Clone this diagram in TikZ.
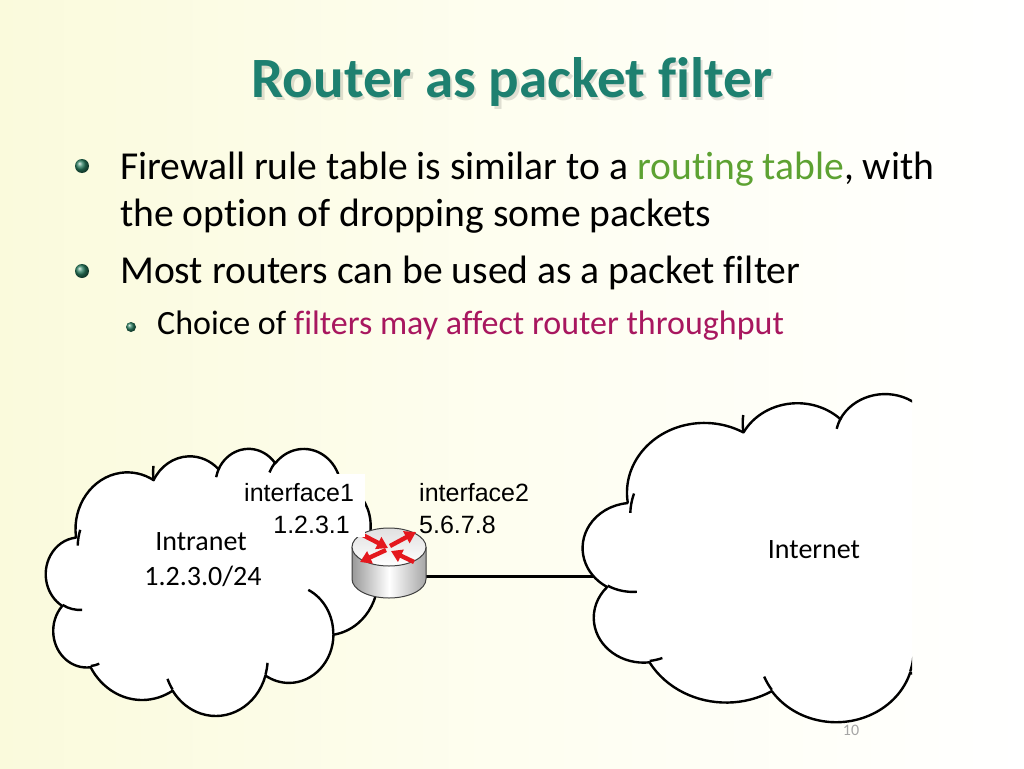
\documentclass[tikz,border=0pt]{standalone}
\usepackage{fontspec}
\setmainfont{Carlito}[Ligatures=NoCommon]
\newfontfamily\arialf{Liberation Sans}
\usetikzlibrary{arrows.meta}
\definecolor{titleteal}{RGB}{30,128,112}
\definecolor{rtgreen}{RGB}{93,162,50}
\definecolor{fmag}{RGB}{168,23,95}
\definecolor{ballteal}{RGB}{40,125,95}
\definecolor{arrred}{RGB}{228,24,30}
\definecolor{bgyellow}{RGB}{250,250,220}
\tikzset{
  ooarc/.style n args={4}{x radius=#1, y radius=#2,
    start angle={atan2((#1)*sin(#3),(#2)*cos(#3))},
    delta angle={mod(atan2((#1)*sin((#3)+(#4)),(#2)*cos((#3)+(#4)))-atan2((#1)*sin(#3),(#2)*cos(#3))+720,360)}},
  cloudline/.style={draw=black, line width=2.4pt, line join=round},
  bul/.style={anchor=base west, inner sep=0pt, font=\fontsize{39.6}{47}\selectfont},
  subbul/.style={anchor=base west, inner sep=0pt, font=\fontsize{34}{40}\selectfont},
  netlabel/.style={inner sep=0pt, font=\fontsize{28}{33}\selectfont},
  iflabel/.style={inner sep=0pt, font=\arialf\fontsize{25}{30}\selectfont},
  wire/.style={draw=black, line width=3pt},
  rarrow/.style={draw=arrred, line width=4.4pt, -{Triangle[length=11pt,width=13pt]}},
  ballbul/.style={ball color=ballteal}
}
\newcommand\ooOutline{(3.900,14.370)
 arc[ooarc={6.753}{9.190}{-190.4875}{123.7805}]
 arc[ooarc={5.333}{7.267}{-144.1024}{89.9452}]
 arc[ooarc={4.365}{5.945}{-145.8079}{99.7230}]
 arc[ooarc={4.857}{6.595}{-130.9861}{117.2417}]
 arc[ooarc={5.333}{7.273}{-78.7089}{109.0269}]
 arc[ooarc={6.775}{9.220}{-46.2673}{130.2690}]
 arc[ooarc={5.785}{7.867}{0.6250}{114.0333}]
 arc[ooarc={6.752}{9.215}{22.4516}{115.1726}]
 arc[ooarc={7.720}{10.543}{66.2426}{75.7110}]
 arc[ooarc={4.360}{5.918}{-274.9421}{146.7356}]
 arc[ooarc={4.345}{5.945}{-246.8285}{152.5189}] -- cycle}
\newcommand\ooInner{(4.693,26.177) arc[ooarc={4.345}{5.945}{86.7420}{26.4295}]
 (6.928,34.899) arc[ooarc={4.360}{5.918}{73.6105}{11.4475}]
 (16.478,39.090) arc[ooarc={6.752}{9.215}{137.6242}{14.0811}]
 (28.827,34.751) arc[ooarc={6.752}{9.215}{6.4533}{15.9984}]
 (34.129,22.954) arc[ooarc={5.785}{7.867}{-70.2924}{70.9174}]
 (41.798,15.354) arc[ooarc={5.333}{7.273}{30.3180}{27.7515}]
 (38.324,5.426) arc[ooarc={4.857}{6.595}{-13.7443}{14.8589}]
 (29.078,3.952) arc[ooarc={4.857}{6.595}{-149.1815}{18.1954}]
 (22.141,4.720) arc[ooarc={4.365}{5.945}{-163.4943}{19.0050}]
 (14.000,5.192) arc[ooarc={6.753}{9.190}{-190.4875}{19.4328}]
 (4.127,15.789) arc[ooarc={6.753}{9.190}{182.3443}{21.4214}]}
\begin{document}
\begin{tikzpicture}[x=1pt,y=-1pt]
\useasboundingbox (0,0) rectangle (1024,768);
\shade[left color=bgyellow, right color=white, middle color={rgb,255:red,254;green,254;blue,240}] (0,0) rectangle (1024,768);

% title
\node[anchor=base, inner sep=0pt, text=black, opacity=0.12, font=\bfseries\fontsize{57}{66}\selectfont] (titleshadow) at (514.5,100) {Router as packet filter};
\node[anchor=base, inner sep=0pt, text=titleteal, font=\bfseries\fontsize{57}{66}\selectfont] (title) at (512,97) {Router as packet filter};

% bullets
\shade[ballbul] (82,166) circle[radius=7];
\shade[ballbul] (82,271) circle[radius=7];
\shade[ballbul] (131,327) circle[radius=5];
\node[bul] (b1) at (120,179) {Firewall rule table is similar to a \textcolor{rtgreen}{routing table}, with};
\node[bul] (b1b) at (120,226) {the option of dropping some packets};
\node[bul] (b2) at (120,283) {Most routers can be used as a packet filter};
\node[subbul] (b3) at (157,334) {Choice of \textcolor{fmag}{filters may affect router throughput}};

% intranet cloud
\begin{scope}[shift={(46,448)}, x=7.685pt, y=-6.181pt]
  \path[fill=white] \ooOutline;
  \draw[cloudline] \ooOutline;
  \draw[cloudline] \ooInner;
\end{scope}

% router node and wire
\node[inner sep=0pt, minimum width=74pt, minimum height=70pt] (router) at (389,563) {};
\coordinate (inetL) at (605,576);
\draw[wire] (inetL -| router.east) -- (inetL);

% internet cloud (clipped at the right)
\begin{scope}
  \clip (0,0) rectangle (912,768);
  \begin{scope}[shift={(583,393)}, x=11.458pt, y=-7.593pt]
    \path[fill=white] \ooOutline;
    \draw[cloudline] \ooOutline;
    \draw[cloudline] \ooInner;
  \end{scope}
\end{scope}

% router drawing
\shade[left color=black!40, right color=black!35, middle color=white]
  (352,547) -- (352,579) arc[start angle=180, end angle=0, x radius=37, y radius=19] -- (426,547) -- cycle;
\draw[black!75, line width=1pt]
  (352,547) -- (352,579) arc[start angle=180, end angle=0, x radius=37, y radius=19] -- (426,547);
\shade[top color=black!12, bottom color=white, draw=black!75, line width=1pt] (389,547) ellipse[x radius=37, y radius=19];
\draw[rarrow] (357,532) -- (388,548);
\draw[rarrow] (414,562) -- (391,551);
\draw[rarrow] (390,546) -- (416,532);
\draw[rarrow] (386,550) -- (360,562);

% labels (interface1 text box is opaque white)
\fill[white] (238,474) rectangle (365,537);
\node[iflabel, anchor=base west] (if1) at (244,501) {interface1};
\node[iflabel, anchor=base east] (ip1) at (350,533) {1.2.3.1};
\node[iflabel, anchor=base west] (if2) at (419,501) {interface2};
\node[iflabel, anchor=base west] (ip2) at (419,533) {5.6.7.8};
\node[netlabel, anchor=base] (intranet) at (201,550) {Intranet};
\node[netlabel, anchor=base] (intranetip) at (203,585) {1.2.3.0/24};
\node[netlabel, anchor=base] (internet) at (814,558) {Internet};
\node[inner sep=0pt, anchor=base, text=black!35, font=\fontsize{16}{19}\selectfont] (pagenum) at (851,735) {10};
\end{tikzpicture}
\end{document}
